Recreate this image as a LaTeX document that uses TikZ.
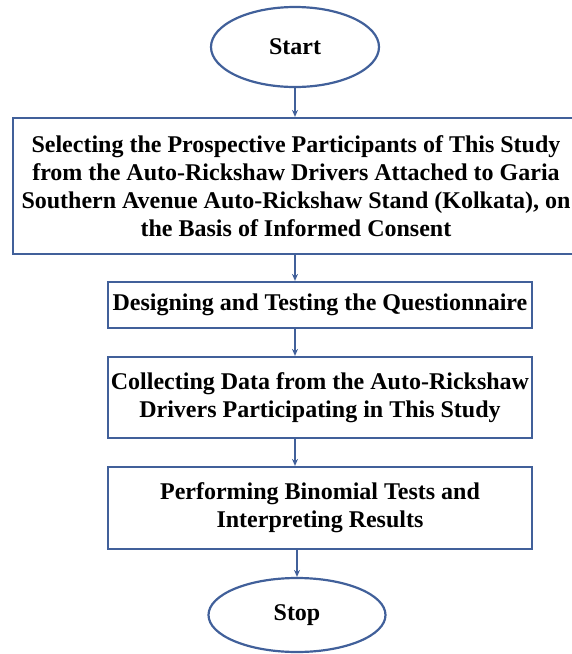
\documentclass[tikz,border=0pt]{standalone}
\usepackage{fontspec}
\setmainfont{Liberation Serif}
\usetikzlibrary{shapes.geometric,arrows.meta}
\definecolor{bordblue}{HTML}{41609A}
\tikzset{
  boxstyle/.style={draw=bordblue, line width=2.2pt, fill=white, inner sep=0pt, align=center, font=\bfseries\fontsize{24}{28}\selectfont},
  ovalstyle/.style={ellipse, draw=bordblue, line width=2.2pt, inner sep=0pt, font=\bfseries\fontsize{24}{28}\selectfont},
  conn/.style={draw=bordblue, line width=1.2pt, -{Stealth[length=7pt,width=6pt]}}
}
\begin{document}
\begin{tikzpicture}[x=1pt,y=1pt]
\useasboundingbox (0,0) rectangle (571,-654);
\node[ovalstyle, minimum width=168pt, minimum height=80pt] (start) at (295,-47) {Start};
\node[boxstyle, minimum width=566pt, minimum height=136pt] (b1) at (296,-186) {Selecting the Prospective Participants of This Study\\from the Auto-Rickshaw Drivers Attached to Garia\\Southern Avenue Auto-Rickshaw Stand (Kolkata), on\\the Basis of Informed Consent};
\node[boxstyle, minimum width=424pt, minimum height=46pt] (b2) at (320,-305) {Designing and Testing the Questionnaire};
\node[boxstyle, minimum width=424pt, minimum height=81pt] (b3) at (320,-397.5) {Collecting Data from the Auto-Rickshaw\\Drivers Participating in This Study};
\node[boxstyle, minimum width=424pt, minimum height=82pt] (b4) at (320,-508) {Performing Binomial Tests and\\Interpreting Results};
\node[ovalstyle, minimum width=177pt, minimum height=74pt] (stop) at (297,-615) {Stop};
\draw[conn] (start.south) -- (b1.north -| start.south);
\draw[conn] (b1.south -| start.south) -- (b2.north -| start.south);
\draw[conn] (b2.south -| start.south) -- (b3.north -| start.south);
\draw[conn] (b3.south -| start.south) -- (b4.north -| start.south);
\draw[conn] (b4.south -| stop.north) -- (stop.north);
\end{tikzpicture}
\end{document}
